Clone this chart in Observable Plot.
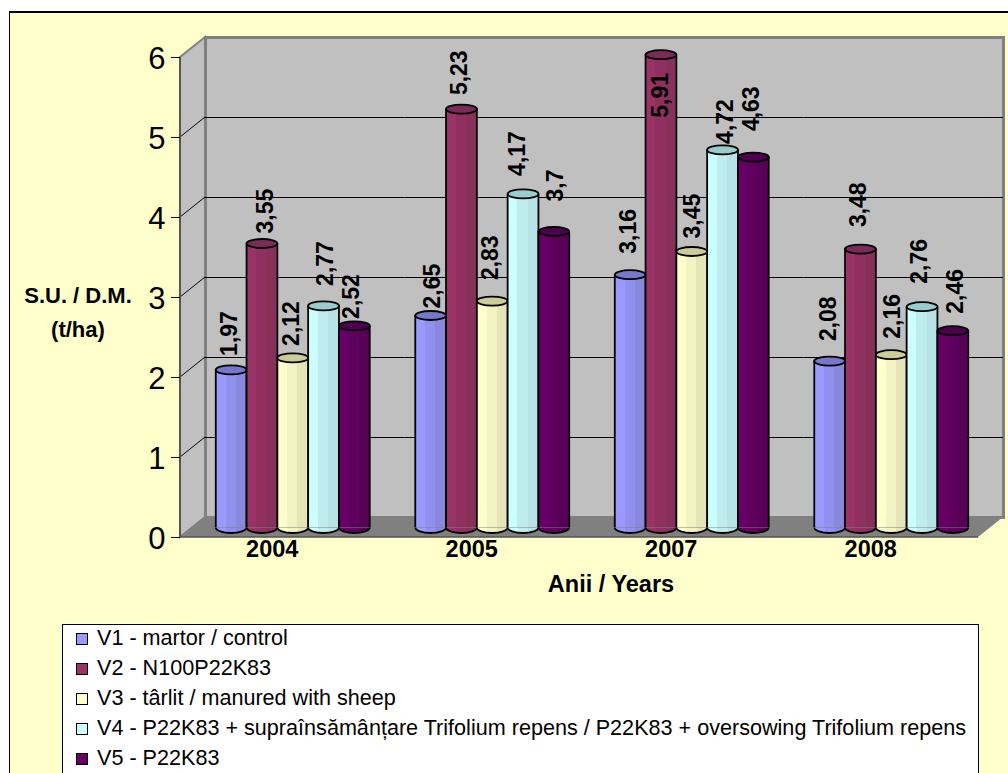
<!DOCTYPE html>
<html><head><meta charset="utf-8">
<script src="https://cdn.jsdelivr.net/npm/d3@7"></script>
<script src="https://cdn.jsdelivr.net/npm/@observablehq/plot@0.6"></script>
<style>
html,body{margin:0;padding:0;background:#fff;overflow:hidden;}
body{width:1008px;height:773px;position:relative;font-family:"Liberation Sans",Arial,sans-serif;}
#panel{position:absolute;left:9px;top:11px;width:1010px;height:780px;background:#ffffcc;border:1px solid #000;border-top-width:2px;box-sizing:border-box;}
#chart{position:absolute;left:0;top:0;}
#legend{position:absolute;left:62px;top:624px;width:917px;height:170px;background:#fff;border:1px solid #000;box-sizing:border-box;}
.row{position:absolute;left:13px;height:30px;line-height:30px;font-size:21.6px;color:#000;white-space:nowrap;}
.sw{display:inline-block;width:10px;height:10px;border:1px solid #000;margin-right:9px;vertical-align:0px;}
</style></head><body>
<div id="panel"></div><div id="chart"></div><div id="legend"></div>
<script>
const years = ["2004","2005","2007","2008"];
const seriesIds = ["V1","V2","V3","V4","V5"];
const seriesNames = [
  "V1 - martor / control",
  "V2 - N100P22K83",
  "V3 - târlit / manured with sheep",
  "V4 - P22K83 + supraînsămânțare Trifolium repens / P22K83 + oversowing Trifolium repens",
  "V5 - P22K83"
];
const v1 = [1.97, 2.65, 3.16, 2.08];
const v2 = [3.55, 5.23, 5.91, 3.48];
const v3 = [2.12, 2.83, 3.45, 2.16];
const v4 = [2.77, 4.17, 4.72, 2.76];
const v5 = [2.52, 3.7, 4.63, 2.46];
const yTicks = [0,1,2,3,4,5,6];
const bands = [
  ["#9999ff","#9090ee","#8888dd"],
  ["#993366","#8f3060","#86305a"],
  ["#ffffcc","#f2f2c2","#e5e5b8"],
  ["#ccffff","#bfecec","#b8e3e6"],
  ["#660066","#5f005f","#580058"]
];
const caps = ["#7777cc","#7a2b58","#cccc99","#99cccc","#4d004d"];
// Data-label placement relative to the top of each cylinder, per series and year (pixels).
const labelDx = [[-2,2,-2,-1],[4,-2,0,-2],[-1,-2,1,1],[2,-5,3,-2],[-3,2,-2,3]];
const labelDy = [[-14,-7,-21,-20],[-10,-14,63,-22],[-12,-21,-13,-16],[-20,-18,-6,-23],[-7,-30,-26,-17]];

const values = [v1,v2,v3,v4,v5];
const rows = seriesIds.map((s,i)=>years.map((year,j)=>({
  year, series:s, value:values[i][j], label:String(values[i][j]).replace(".",",")
})));
const depthX = 25, depthY = 20, midX = depthX/2, midY = depthY/2;
const halfBar = 15.4, capRy = 4.5;
const ellipse = {draw(c){
  const k=0.5523, a=halfBar, b=capRy;
  c.moveTo(-a,0);
  c.bezierCurveTo(-a,-k*b,-k*a,-b,0,-b);
  c.bezierCurveTo(k*a,-b,a,-k*b,a,0);
  c.bezierCurveTo(a,k*b,k*a,b,0,b);
  c.bezierCurveTo(-k*a,b,-a,k*b,-a,0);
  c.closePath();
}};
const bowl = {draw(c){
  const k=0.5523, a=halfBar, b=capRy+1;
  c.moveTo(-a,0);
  c.bezierCurveTo(-a,k*b,-k*a,b,0,b);
  c.bezierCurveTo(k*a,b,a,k*b,a,0);
}};
const room = (index,{y},_v,{width,marginLeft,marginRight})=>{
  const l=marginLeft, r=width-marginRight, t=y(6), b=y(0);
  const g=d3.create("svg:g");
  g.append("path").attr("d",`M${l},${t}L${l+depthX},${t-depthY}V${b-depthY}L${l},${b}Z`)
    .attr("fill","#c0c0c0").attr("stroke","#808080").attr("stroke-width",2);
  g.append("path").attr("d",`M${l},${b}L${l+depthX},${b-depthY}H${r+depthX}L${r},${b}Z`)
    .attr("fill","#808080");
  for(const v of yTicks.slice(1,-1)){
    g.append("line").attr("x1",l).attr("y1",y(v)).attr("x2",l+depthX).attr("y2",y(v)-depthY).attr("stroke","#000");
  }
  g.append("line").attr("x1",l).attr("y1",t).attr("x2",l).attr("y2",b).attr("stroke","#555").attr("stroke-width",2);
  g.append("line").attr("x1",l).attr("y1",b).attr("x2",r).attr("y2",b).attr("stroke","#555").attr("stroke-width",1.5);
  return g.node();
};
const defs = ()=>{
  const d=d3.create("svg:defs");
  bands.forEach((b,i)=>{
    const g=d.append("linearGradient").attr("id","cyl"+i);
    b.forEach((col,k)=>{
      g.append("stop").attr("offset",k/3).attr("stop-color",col);
      g.append("stop").attr("offset",(k+1)/3).attr("stop-color",col);
    });
  });
  return d.node();
};
const titles = ()=>{
  const g=d3.create("svg:g").attr("font-weight","bold").attr("fill","#000").attr("text-anchor","middle");
  g.append("text").attr("x",78).attr("y",303).attr("font-size",22).text("S.U. / D.M.");
  g.append("text").attr("x",78).attr("y",337).attr("font-size",22).text("(t/ha)");
  g.append("text").attr("x",611).attr("y",592).attr("font-size",23.5).text("Anii / Years");
  return g.node();
};
const offset = {dx:midX, dy:-midY};
const cylinders = rows.flatMap((data,i)=>[
  Plot.rectY(data,{x:"series",fx:"year",y1:0,y2:"value",fill:`url(#cyl${i})`,...offset}),
  Plot.dot(data,{x:"series",fx:"year",y:()=>0,symbol:bowl,r:5,fill:`url(#cyl${i})`,stroke:"#000",strokeWidth:1.8,...offset}),
  Plot.ruleX(data,{x:"series",fx:"year",y1:0,y2:"value",stroke:"#000",strokeWidth:1.8,dx:midX-halfBar,dy:-midY}),
  Plot.ruleX(data,{x:"series",fx:"year",y1:0,y2:"value",stroke:"#000",strokeWidth:1.8,dx:midX+halfBar,dy:-midY}),
  Plot.dot(data,{x:"series",fx:"year",y:"value",symbol:ellipse,r:5,fill:caps[i],stroke:"#000",strokeWidth:1.8,...offset})
]);
const labels = rows.flatMap((data,i)=>data.map((d,j)=>Plot.text([d],{
  x:"series",fx:"year",y:"value",
  text:"label",rotate:-90,textAnchor:"start",lineAnchor:"middle",
  fontSize:23,fontWeight:"bold",fill:"#000",
  dx:midX+labelDx[i][j],dy:-midY+labelDy[i][j]
})));
const plot = Plot.plot({
  width:1008,height:620,
  marginLeft:180,marginRight:30,marginTop:57,marginBottom:83,
  style:{background:"transparent",fontFamily:"'Liberation Sans',Arial,sans-serif",overflow:"visible"},
  x:{type:"band",domain:seriesIds,paddingInner:0,paddingOuter:0.74,round:false,axis:null},
  fx:{domain:years,padding:0,round:false,axis:null},
  y:{domain:[0,6],axis:null},
  marks:[
    Plot.frame({facet:"super",fill:"none",stroke:"none",render:defs}),
    Plot.frame({facet:"super",fill:"#c0c0c0",stroke:"#808080",strokeWidth:3,dx:depthX,dy:-depthY}),
    Plot.frame({facet:"super",fill:"none",stroke:"none",render:room}),
    Plot.ruleY(yTicks.slice(1,-1),{stroke:"#000",dx:depthX,dy:-depthY}),
    Plot.axisY(yTicks,{anchor:"left",label:null,tickSize:9,tickFormat:()=>"",stroke:"#000"}),
    Plot.axisY(yTicks,{anchor:"left",label:null,tickSize:0,tickPadding:15,fontSize:31,tickFormat:d=>d,dy:1.5}),
    Plot.text(years,{fx:d=>d,text:d=>d,frameAnchor:"bottom",fontSize:23.5,fontWeight:"bold",fill:"#000",dx:-8,dy:19}),
    ...cylinders,
    ...labels,
    Plot.frame({facet:"super",fill:"none",stroke:"none",render:titles})
  ]
});
document.getElementById("chart").appendChild(plot);
const legend=document.getElementById("legend");
seriesNames.forEach((n,i)=>{
  const row=document.createElement("div");row.className="row";row.style.top=(i*30)-2+"px";
  const sw=document.createElement("span");sw.className="sw";sw.style.background=bands[i][0];
  row.appendChild(sw);row.appendChild(document.createTextNode(n));legend.appendChild(row);
});
</script></body></html>
